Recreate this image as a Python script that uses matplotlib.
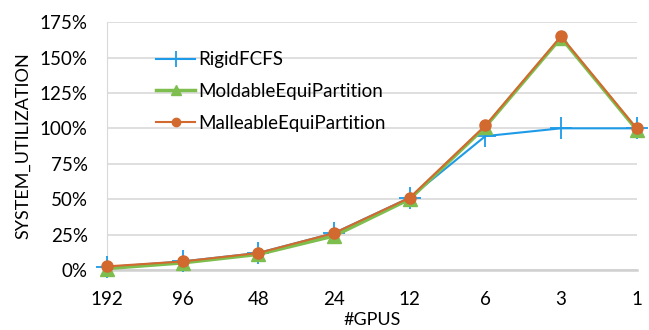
import matplotlib.pyplot as plt
from matplotlib.ticker import PercentFormatter

plt.rcParams['font.family'] = ['Lato', 'DejaVu Sans']

gpus = ['192', '96', '48', '24', '12', '6', '3', '1']
rigid = [0.02, 0.06, 0.12, 0.26, 0.51, 0.945, 1.00, 1.00]
moldable = [0.01, 0.05, 0.11, 0.24, 0.50, 1.01, 1.64, 0.99]
malleable = [0.025, 0.06, 0.12, 0.26, 0.51, 1.02, 1.65, 1.00]

fig = plt.figure(figsize=(6.49, 3.30), dpi=100)
ax = fig.add_axes([0.165, 0.182, 0.816, 0.751])

x = range(len(gpus))
ax.plot(x, rigid, color='#1E9BE8', lw=1.5, marker='+', ms=16, mew=1.3,
        label='RigidFCFS', clip_on=False, zorder=3)
ax.plot(x, moldable, color='#7DBE4F', lw=2.5, marker='^', ms=10,
        label='MoldableEquiPartition', clip_on=False, zorder=4)
ax.plot(x, malleable, color='#D2692F', lw=1.5, marker='o', ms=8,
        label='MalleableEquiPartition', clip_on=False, zorder=5)

ax.set_xlim(0, 7)
ax.set_ylim(0, 1.75)
ax.set_xticks(list(x))
ax.set_xticklabels(gpus)
ax.set_yticks([i * 0.25 for i in range(8)])
ax.yaxis.set_major_formatter(PercentFormatter(1.0, decimals=0))
ax.grid(axis='y', color='#d9d9d9', lw=1.2)
ax.set_axisbelow(True)
for s in ['top', 'right']:
    ax.spines[s].set_visible(False)
ax.spines['left'].set_color('#d9d9d9')
ax.spines['bottom'].set_color('#d0d0d0')
ax.spines['bottom'].set_linewidth(1.8)
ax.tick_params(length=0, labelsize=13.5)
ax.tick_params(axis='y', pad=14)
ax.tick_params(axis='x', pad=15)

ax.set_xlabel('#GPUS', fontsize=13, labelpad=3)
ax.set_ylabel('SYSTEM_UTILIZATION', fontsize=13, labelpad=6)

leg = ax.legend(loc='upper left', bbox_to_anchor=(0.078, 0.912), frameon=False,
                fontsize=13.5, handlelength=2.1, handletextpad=0.15,
                labelspacing=0.78, borderaxespad=0)
for h in leg.legend_handles:
    h.set_markersize(h.get_markersize() * 0.75)

fig.savefig('out.png', dpi=100)
